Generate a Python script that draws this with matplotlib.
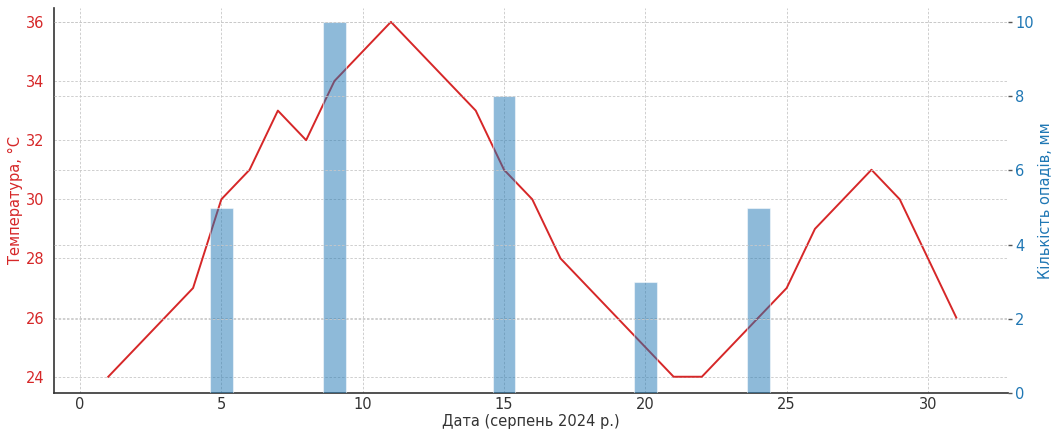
import matplotlib.pyplot as plt

# --- data (серпень 2024) ---
days = list(range(1, 32))
temps = [24, 25, 26, 27, 30, 31, 33, 32, 34, 35, 36, 35, 34, 33, 31, 30,
         28, 27, 26, 25, 24, 24, 25, 26, 27, 29, 30, 31, 30, 28, 26]
rain_days = [5, 9, 15, 20, 24]
rain_mm = [5, 10, 8, 3, 5]

t_color = '#d62728'
r_color = '#1f77b4'
fs = 10.5

fig = plt.figure(figsize=(10.52, 4.29), dpi=100)
ax1 = fig.add_axes([54 / 1052, 1 - 393 / 429, (1008 - 54) / 1052, (393 - 8) / 429])

ax1.plot(days, temps, color=t_color, linewidth=1.4)
ax1.set_xlim(-0.92, 32.83)
ax1.set_ylim(23.45, 36.47)
ax1.set_yticks([24, 26, 28, 30, 32, 34, 36])
ax1.set_xticks([0, 5, 10, 15, 20, 25, 30])
ax1.set_ylabel('Температура, °C', color=t_color, fontsize=fs, labelpad=2)
ax1.set_xlabel('Дата (серпень 2024 р.)', color='#333333', fontsize=fs, labelpad=1)
ax1.tick_params(axis='y', colors=t_color, labelsize=fs, length=0, pad=7)
ax1.tick_params(axis='x', colors='#333333', labelsize=fs, length=0, pad=3)
ax1.grid(True, linestyle=(0, (3, 2)), color='#c8c8c8', linewidth=0.6)
for s in ['top', 'right']:
    ax1.spines[s].set_visible(False)
for s in ['left', 'bottom']:
    ax1.spines[s].set_color('#333333')
    ax1.spines[s].set_linewidth(1.2)

ax2 = ax1.twinx()
ax2.bar(rain_days, rain_mm, width=0.8, color=r_color, alpha=0.5,
        edgecolor='white', linewidth=0.8)
ax2.set_ylim(0, 10.38)
ax2.set_yticks([0, 2, 4, 6, 8, 10])
ax2.set_ylabel('Кількість опадів, мм', color=r_color, fontsize=fs, labelpad=3)
ax2.tick_params(axis='y', colors=r_color, labelsize=fs, length=3, width=1.0, pad=2)
for t in ax2.yaxis.get_ticklines():
    t.set_markeredgecolor('#555555')
ax2.grid(True, axis='y', linestyle=(0, (3, 2)), color='#c8c8c8', linewidth=0.6)
for s in ax2.spines.values():
    s.set_visible(False)

fig.savefig('out.png', dpi=100)
